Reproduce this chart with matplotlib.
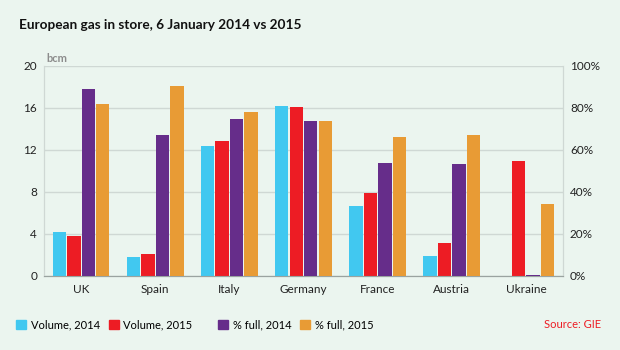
import matplotlib.pyplot as plt
import numpy as np
from matplotlib.patches import Patch

plt.rcParams['font.family'] = ['Lato', 'DejaVu Sans']

# Data
categories = ['UK', 'Spain', 'Italy', 'Germany', 'France', 'Austria', 'Ukraine']
vol_2014 = [4.2, 1.8, 12.4, 16.2, 6.7, 1.9, 0.0]
vol_2015 = [3.8, 2.1, 12.9, 16.1, 7.9, 3.1, 11.0]
full_2014 = [89, 67, 75, 74, 54, 53.5, 0.3]
full_2015 = [82, 90.5, 78, 74, 66, 67, 34.5]
left_ticks = [0, 4, 8, 12, 16, 20]
right_ticks = [0, 20, 40, 60, 80, 100]

bg = '#ebf5ef'
c_vol14 = '#41c8f0'
c_vol15 = '#ed1c24'
c_full14 = '#662d8a'
c_full15 = '#e89b35'

fig = plt.figure(figsize=(6.2, 3.5), dpi=100, facecolor=bg)
ax = fig.add_axes([44/620, 1 - 276/350, 519/620, 210/350])
ax.set_facecolor(bg)
ax2 = ax.twinx()

x = np.arange(len(categories))
step = 0.195
w = 0.18
ax.bar(x - 1.5*step, vol_2014, w, color=c_vol14, zorder=3)
ax.bar(x - 0.5*step, vol_2015, w, color=c_vol15, zorder=3)
ax2.bar(x + 0.5*step, full_2014, w, color=c_full14, zorder=3)
ax2.bar(x + 1.5*step, full_2015, w, color=c_full15, zorder=3)

ax.set_xlim(-0.5, len(categories) - 0.5)
ax.set_ylim(0, 20)
ax2.set_ylim(0, 100)
ax.set_yticks(left_ticks)
ax2.set_yticks(right_ticks)
ax2.set_yticklabels([f'{t}%' for t in right_ticks])
ax.set_xticks(x)
ax.set_xticklabels(categories)

ax.yaxis.grid(True, color='#cfd8d4', linewidth=1, zorder=0)
ax.set_axisbelow(True)
for a in (ax, ax2):
    a.tick_params(length=0, labelsize=8.5, colors='#222222')
    a.tick_params(axis='y', pad=5)
    a.spines['top'].set_visible(False)
    a.spines['left'].set_color('#cfd8d4')
    a.spines['right'].set_color('#cfd8d4')
    a.spines['bottom'].set_color('#9aa3a0')
ax.tick_params(axis='x', pad=6)
ax2.patch.set_visible(False)

fig.text(46/620, 1 - 58/350, 'bcm', fontsize=8, color='#8c8c8c', va='center',
         fontweight='bold')
fig.text(19/620, 1 - 25/350, 'European gas in store, 6 January 2014 vs 2015',
         fontsize=9.8, fontweight='bold', va='center', color='#111111')

h1 = [Patch(color=c_vol14, label='Volume, 2014'), Patch(color=c_vol15, label='Volume, 2015')]
h2 = [Patch(color=c_full14, label='% full, 2014'), Patch(color=c_full15, label='% full, 2015')]
for hs, x0 in ((h1, 12/620), (h2, 214/620)):
    fig.legend(handles=hs, loc='center left', bbox_to_anchor=(x0, 1 - 325/350), ncol=2,
               frameon=False, fontsize=8, handlelength=0.9, handleheight=0.9,
               handletextpad=0.4, columnspacing=0.8, borderaxespad=0)

fig.text(601/620, 1 - 325/350, 'Source: GIE', fontsize=8, color='#ed1c24',
         ha='right', va='center')

fig.savefig('out.png', dpi=100, facecolor=bg)
